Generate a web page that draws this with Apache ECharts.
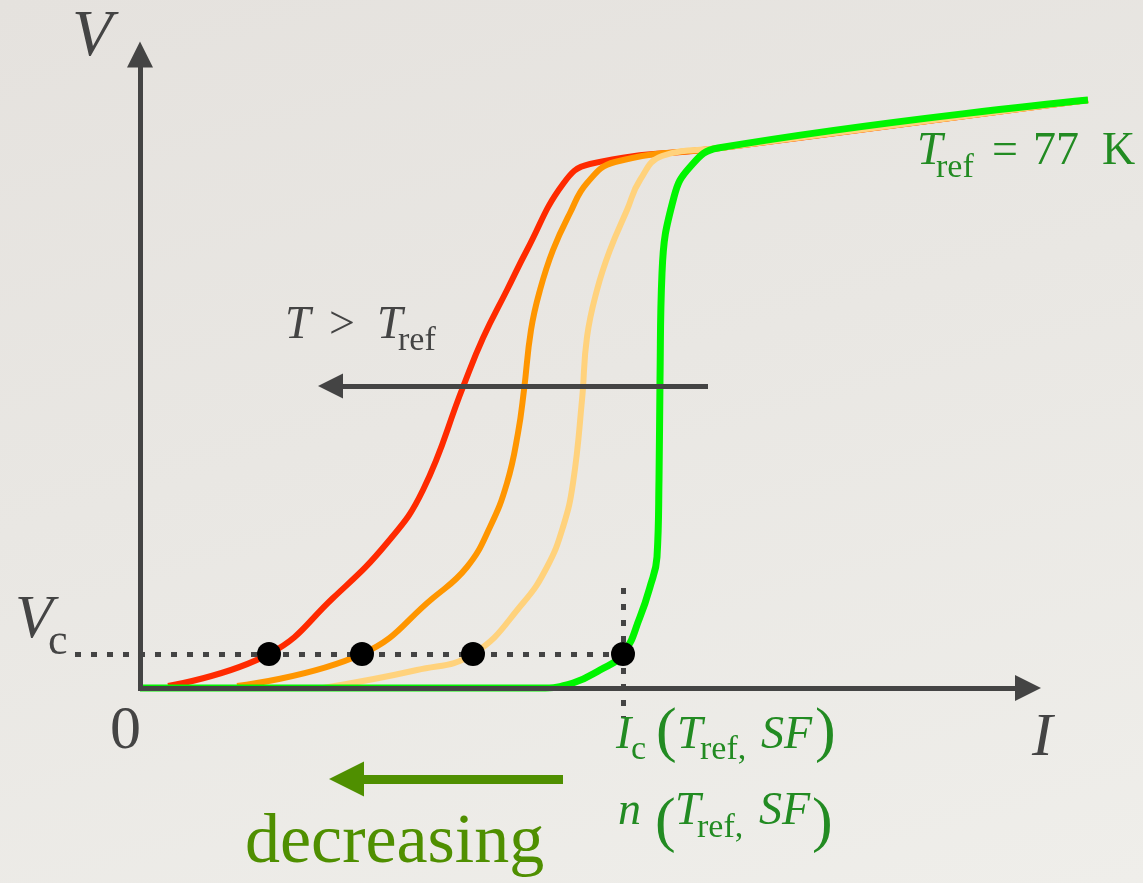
<!DOCTYPE html>
<html>
<head>
<meta charset="utf-8">
<script src="https://cdn.jsdelivr.net/npm/echarts@6/dist/echarts.min.js"></script>
<style>
  html,body{margin:0;padding:0;}
  body{background:linear-gradient(165deg,#e5e2de 0%,#e9e7e3 45%,#efeeea 100%);}
  #chart{width:1143px;height:883px;}
</style>
</head>
<body>
<div id="chart"></div>
<script>
// ---- data (I, V in arbitrary units; origin at 0,0) ----
const redI    = [0.28,1.29,1.93,2.47,2.83,3.23,3.43,3.67,3.87,4.23,4.50,5.80,9.48];
const redV    = [0.02,0.34,0.90,1.45,1.98,3.01,3.50,3.98,4.38,5.04,5.24,5.40,5.88];
const orangeI = [0.97,2.22,2.93,3.27,3.50,3.67,3.78,3.84,3.91,4.00,4.13,4.30,4.47,4.75,5.80,9.48];
const orangeV = [0.02,0.34,0.90,1.21,1.61,2.05,2.55,2.98,3.58,3.98,4.38,4.75,5.05,5.26,5.40,5.88];
const lightI  = [1.83,2.77,3.33,3.83,4.07,4.23,4.33,4.42,4.47,4.57,4.70,4.87,5.00,5.22,5.80,9.48];
const lightV  = [0.00,0.18,0.34,0.85,1.21,1.61,2.05,2.88,3.51,3.98,4.38,4.78,5.08,5.32,5.40,5.88];
const greenI  = [0.00,4.00,4.33,4.60,4.83,5.00,5.10,5.17,5.19,5.20,5.22,5.34,5.50,5.78,9.48];
const greenV  = [0.00,0.00,0.05,0.18,0.34,0.71,1.01,1.31,2.08,3.08,4.15,4.91,5.21,5.40,5.88];
const Vc = 0.34;
const IcDots = [1.29, 2.22, 3.33, 4.83];   // currents where each curve reaches Vc
const Ic_ref = 4.83;

const zip = (a,b) => a.map((v,i)=>[v,b[i]]);

const AX = '#444444';
const GREEN_TXT = '#228b22';
const OLIVE = '#4f8f00';

function curve(name, I, V, color, w){
  return {type:'line', name, data: zip(I,V), smooth:0.45, showSymbol:false,
          lineStyle:{color, width:w||6}, z:2};
}
function seg(coords, color, width, arrow, dash){
  return {type:'lines', coordinateSystem:'cartesian2d', z:3,
          symbol: arrow ? ['none','triangle'] : 'none',
          symbolSize: arrow || 0,
          lineStyle:{color, width, type: dash || 'solid', opacity:1, cap:'butt'},
          data:[{coords}]};
}

// text helper: x = left, b = baseline
function t(text, x, b, size, opt){
  opt = opt || {};
  const fam = '"Liberation Serif","Times New Roman",serif';
  return {type:'text', x, y: b - 0.34*size, z:10,
          style:{text, font:(opt.italic?'italic ':'') + size + 'px ' + fam,
                 fill: opt.color || AX, align:'left', verticalAlign:'middle'}};
}

const chart = echarts.init(document.getElementById('chart'), null, {renderer:'canvas'});
chart.setOption({
  animation:false,
  backgroundColor:'transparent',
  grid:{left:0,right:0,top:0,bottom:0},
  xAxis:{type:'value',min:-1.40,max:10.03,show:false},
  yAxis:{type:'value',min:-1.95,max:6.88,show:false},
  series:[
    // axes
    seg([[0,-0.02],[0,6.335]], AX, 5, [24,26]),
    seg([[-0.02,0],[8.88,0]], AX, 5, [24,26]),
    // dotted guides
    seg([[-0.65,Vc],[4.92,Vc]], AX, 5, null, [6,10]),
    seg([[Ic_ref,1.0],[Ic_ref,-0.30]], AX, 5, null, [6,10]),
    // curves
    curve('red', redI, redV, '#ff2a00'),
    curve('orange', orangeI, orangeV, '#ff9600'),
    curve('light', lightI, lightV, '#ffd27c'),
    curve('green', greenI, greenV, '#00f500', 7),
    // arrows
    seg([[5.68,3.02],[1.905,3.02]], AX, 5, [25,25]),
    seg([[4.23,-0.91],[2.065,-0.91]], OLIVE, 9, [34,35]),
    // critical points
    {type:'scatter', data: IcDots.map(i=>[i,Vc]), symbolSize:24,
     itemStyle:{color:'#000', opacity:1}, z:5}
  ],
  graphic:[
    t('V', 72, 60, 66, {italic:true}),
    t('V', 15, 642, 62, {italic:true}),
    t('c', 48, 657, 44),
    t('0', 110, 753, 62),
    t('I', 1032, 760, 62, {italic:true}),
    // T_ref = 77 K
    t('T', 917, 168, 46, {italic:true, color:GREEN_TXT}),
    t('ref', 936, 180, 34, {color:GREEN_TXT}),
    t('=', 992, 168, 46, {color:GREEN_TXT}),
    t('77', 1033, 168, 46, {color:GREEN_TXT}),
    t('K', 1102, 168, 46, {color:GREEN_TXT}),
    // T > T_ref
    t('T', 285, 342, 46, {italic:true}),
    t('>', 329, 342, 46),
    t('T', 377, 342, 46, {italic:true}),
    t('ref', 398, 353, 34),
    // Ic (Tref, SF)
    t('I', 616, 752, 46, {italic:true, color:GREEN_TXT}),
    t('c', 631, 762, 34, {color:GREEN_TXT}),
    t('(', 656, 755, 62, {color:GREEN_TXT}),
    t('T', 677, 752, 46, {italic:true, color:GREEN_TXT}),
    t('ref,', 700, 762, 34, {color:GREEN_TXT}),
    t('SF', 761, 752, 46, {italic:true, color:GREEN_TXT}),
    t(')', 815, 755, 62, {color:GREEN_TXT}),
    // n (Tref, SF)
    t('n', 618, 828, 46, {italic:true, color:GREEN_TXT}),
    t('(', 655, 845, 62, {color:GREEN_TXT}),
    t('T', 675, 828, 46, {italic:true, color:GREEN_TXT}),
    t('ref,', 697, 840, 34, {color:GREEN_TXT}),
    t('SF', 759, 828, 46, {italic:true, color:GREEN_TXT}),
    t(')', 812, 845, 62, {color:GREEN_TXT}),
    // decreasing
    t('decreasing', 245, 867, 70, {color:OLIVE})
  ]
});
</script>
</body>
</html>
